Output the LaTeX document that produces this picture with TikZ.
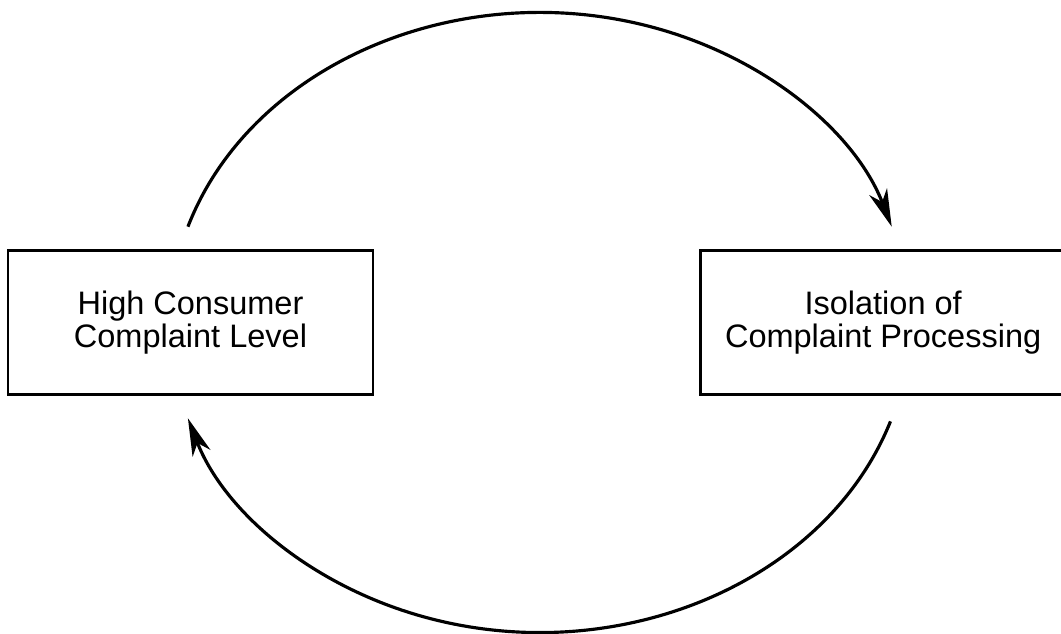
\documentclass[tikz,border=0pt]{standalone}
\usepackage{fontspec}
\setmainfont{Liberation Sans}
\usetikzlibrary{positioning,arrows.meta,calc}

\begin{document}
\begin{tikzpicture}[
    every node/.style={draw, line width=1.5pt, align=center, font=\fontsize{18.5}{18.6}\selectfont, inner sep=0pt},
    state/.style={minimum height=2.88cm},
    arrow/.style={-{Stealth[length=7.5mm, width=3.8mm, inset=2.2mm]}, line width=1.8pt}
]
\useasboundingbox (0,0) rectangle (21.22,12.68);

\node[state, minimum width=7.3cm] (level) at (3.81,6.23) {High Consumer\\Complaint Level};
\node[state, minimum width=7.3cm, right=6.5cm of level] (isolation) {Isolation of\\Complaint Processing};

% centre of the feedback loop and the ends of its two halves
\coordinate (loop) at ($(level.center)!0.5!(isolation.center)+(0.06,0)$);
\coordinate (upstart) at ($(loop)+(162:7.4 and 6.2)$);
\coordinate (downstart) at ($(loop)+(-18.6:7.4 and 6.2)$);

\draw[arrow] (upstart) arc[start angle=162, end angle=18, x radius=7.4, y radius=6.2];
\draw[arrow] (downstart) arc[start angle=-18.6, end angle=-162, x radius=7.4, y radius=6.2];

\end{tikzpicture}
\end{document}
